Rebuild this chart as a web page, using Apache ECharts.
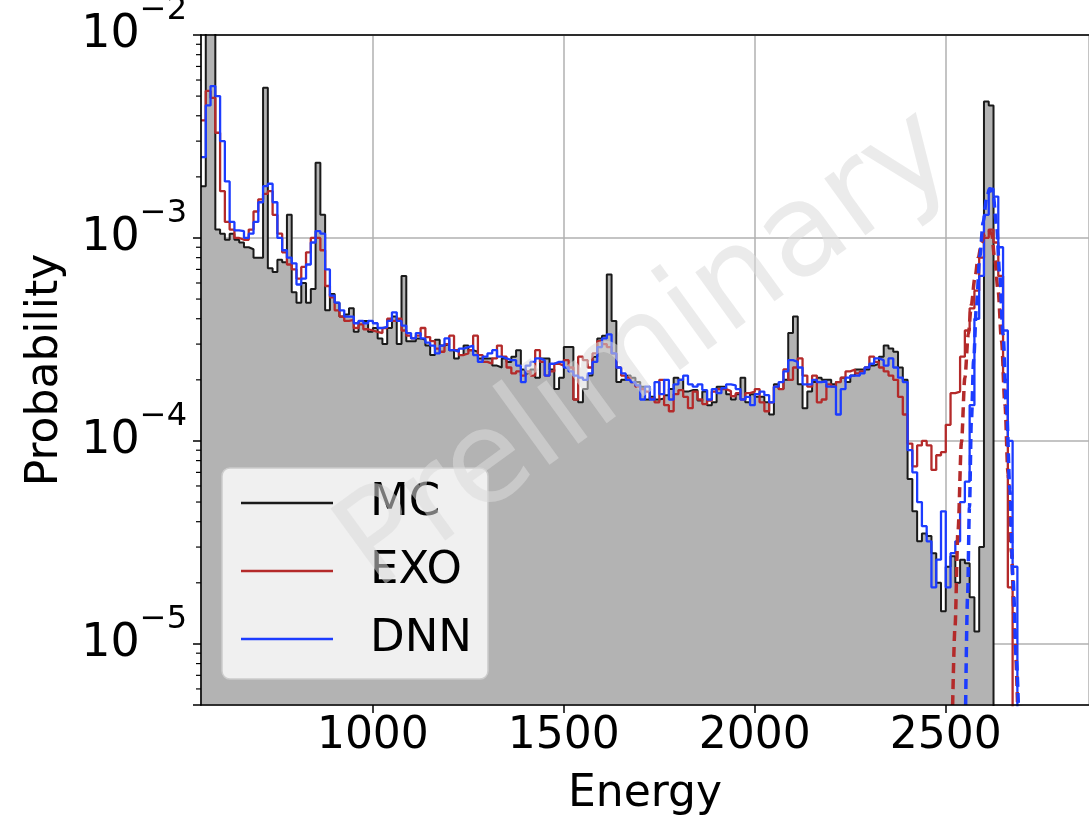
<!DOCTYPE html>
<html>
<head>
<meta charset="utf-8">
<script src="https://cdn.jsdelivr.net/npm/echarts@6/dist/echarts.min.js"></script>
<style>
html,body{margin:0;padding:0;background:#fff;}
#c{width:1089px;height:819px;}
</style>
</head>
<body>
<div id="c"></div>
<script>
// ---- histogram binning (bin left edges start at 550 keV, width 12.5 keV) ----
const BIN_START = 550;
const BIN_WIDTH = 12.5;

// MC (black step, gray fill), one value per bin
const mcValues = [
1.8e-3,1.5e-2,1.5e-2,1.1e-3,1.05e-3,9.8e-4,1.05e-3,9.8e-4,9.5e-4,9.0e-4,
8.8e-4,8.0e-4,8.0e-4,5.5e-3,7.1e-4,6.8e-4,7.8e-4,7.6e-4,1.3e-3,5.4e-4,
4.8e-4,6.0e-4,4.8e-4,5.6e-4,2.35e-3,1.3e-3,4.4e-4,5.3e-4,4.8e-4,4.1e-4,
4.2e-4,4.5e-4,3.45e-4,3.9e-4,3.9e-4,3.45e-4,3.6e-4,3.2e-4,3.0e-4,3.6e-4,
4.1e-4,3.0e-4,6.5e-4,3.1e-4,3.1e-4,3.2e-4,3.15e-4,2.95e-4,2.65e-4,3.15e-4,
2.95e-4,3.0e-4,2.8e-4,2.55e-4,2.65e-4,2.95e-4,2.8e-4,2.75e-4,2.55e-4,2.55e-4,
2.55e-4,2.35e-4,2.3e-4,2.55e-4,2.45e-4,2.6e-4,2.8e-4,2.25e-4,2.15e-4,2.25e-4,
2.05e-4,2.55e-4,2.55e-4,2.25e-4,1.8e-4,2.05e-4,2.9e-4,2.9e-4,1.6e-4,1.55e-4,
1.8e-4,2.1e-4,2.6e-4,3.2e-4,3.3e-4,6.6e-4,3.9e-4,1.95e-4,2.0e-4,2.1e-4,
2.05e-4,1.95e-4,1.85e-4,1.6e-4,1.65e-4,1.6e-4,1.62e-4,1.68e-4,1.8e-4,2.05e-4,
2.0e-4,1.75e-4,1.78e-4,1.78e-4,1.58e-4,1.75e-4,1.5e-4,1.55e-4,1.85e-4,1.85e-4,
1.7e-4,1.6e-4,1.7e-4,2.05e-4,1.55e-4,1.7e-4,1.65e-4,1.65e-4,1.55e-4,1.35e-4,
1.9e-4,1.8e-4,2.0e-4,3.4e-4,4.1e-4,1.9e-4,1.45e-4,1.75e-4,1.95e-4,2.05e-4,
2.0e-4,2.0e-4,1.9e-4,1.95e-4,2.05e-4,1.95e-4,2.1e-4,2.25e-4,2.25e-4,2.25e-4,
2.35e-4,2.4e-4,2.6e-4,2.95e-4,2.85e-4,2.75e-4,2.3e-4,2.0e-4,6.5e-5,4.5e-5,
3.2e-5,3.5e-5,3.4e-5,2.8e-5,2.0e-5,1.45e-5,2.4e-5,2.7e-5,2.0e-5,2.6e-5,
2.5e-5,1.7e-5,1.15e-5,3.0e-5,4.7e-3,4.5e-3,0,0,0,0,
0,0
];

// EXO reconstruction (red step)
const exoValues = [
3.8e-3,5.3e-3,4.9e-3,3.3e-3,1.7e-3,1.2e-3,1.1e-3,1.0e-3,9.8e-4,9.8e-4,
1.1e-3,1.35e-3,1.55e-3,1.65e-3,1.7e-3,1.3e-3,1.05e-3,8.5e-4,7.4e-4,7.0e-4,
6.3e-4,7.2e-4,8.5e-4,1.0e-3,1.0e-3,8.7e-4,5.8e-4,5.1e-4,4.4e-4,4.1e-4,
3.9e-4,3.95e-4,3.6e-4,3.75e-4,3.55e-4,3.5e-4,3.45e-4,3.4e-4,3.6e-4,4.0e-4,
3.9e-4,4.0e-4,3.5e-4,3.3e-4,3.2e-4,3.3e-4,3.6e-4,3.25e-4,3.1e-4,2.85e-4,
2.75e-4,3.0e-4,3.3e-4,2.8e-4,2.65e-4,2.7e-4,2.8e-4,3.3e-4,2.65e-4,2.45e-4,
2.4e-4,2.55e-4,2.95e-4,2.6e-4,2.3e-4,2.15e-4,2.2e-4,2.1e-4,2.2e-4,2.1e-4,
2.8e-4,2.45e-4,2.1e-4,2.2e-4,2.4e-4,2.35e-4,2.5e-4,2.3e-4,1.6e-4,2.6e-4,
2.5e-4,2.3e-4,2.7e-4,3.1e-4,3.0e-4,2.9e-4,2.7e-4,2.3e-4,2.1e-4,2.05e-4,
1.95e-4,1.85e-4,1.8e-4,1.75e-4,1.62e-4,1.55e-4,2.0e-4,1.5e-4,1.4e-4,1.7e-4,
1.78e-4,1.65e-4,1.45e-4,1.75e-4,1.6e-4,1.52e-4,1.58e-4,1.75e-4,1.8e-4,1.8e-4,
1.76e-4,1.66e-4,1.72e-4,1.6e-4,1.72e-4,1.75e-4,1.8e-4,1.55e-4,1.4e-4,1.55e-4,
1.85e-4,1.8e-4,2.25e-4,2.0e-4,2.3e-4,2.55e-4,2.1e-4,1.85e-4,2.1e-4,1.55e-4,
1.6e-4,1.9e-4,1.85e-4,1.95e-4,2.05e-4,2.2e-4,2.25e-4,2.15e-4,2.2e-4,2.3e-4,
2.6e-4,2.45e-4,2.3e-4,2.2e-4,2.1e-4,2.0e-4,1.65e-4,1.35e-4,9.7e-5,7.5e-5,
9.5e-5,1.0e-4,9.5e-5,7.2e-5,8.5e-5,8.8e-5,1.2e-4,1.72e-4,1.75e-4,2.6e-4,
3.5e-4,4.5e-4,5.5e-4,8.0e-4,1.0e-3,1.1e-3,9.5e-4,6.5e-4,2.0e-4,1.9e-5,
0,0
];

// DNN reconstruction (blue step)
const dnnValues = [
2.5e-3,4.5e-3,5.6e-3,5.0e-3,3.0e-3,1.9e-3,1.2e-3,1.09e-3,1.08e-3,1.0e-3,
1.05e-3,1.2e-3,1.5e-3,1.8e-3,1.85e-3,1.5e-3,1.0e-3,8.7e-4,8.0e-4,7.5e-4,
5.9e-4,6.3e-4,7.4e-4,9.5e-4,1.08e-3,1.05e-3,7.0e-4,5.2e-4,4.8e-4,4.4e-4,
4.1e-4,4.1e-4,3.8e-4,3.9e-4,3.8e-4,3.9e-4,3.8e-4,3.6e-4,3.65e-4,3.9e-4,
4.3e-4,3.9e-4,3.7e-4,3.4e-4,3.2e-4,3.4e-4,3.2e-4,3.05e-4,2.95e-4,2.7e-4,
2.95e-4,3.2e-4,2.8e-4,2.75e-4,2.85e-4,2.9e-4,2.95e-4,2.65e-4,2.45e-4,2.6e-4,
2.7e-4,2.8e-4,2.6e-4,2.55e-4,2.5e-4,2.5e-4,2.35e-4,1.95e-4,2.35e-4,2.45e-4,
2.55e-4,2.5e-4,2.1e-4,2.4e-4,2.45e-4,2.45e-4,2.3e-4,2.2e-4,2.1e-4,2.05e-4,
2.0e-4,2.15e-4,2.45e-4,2.9e-4,3.2e-4,3.35e-4,2.7e-4,2.3e-4,2.15e-4,2.0e-4,
1.95e-4,1.88e-4,1.6e-4,1.85e-4,1.6e-4,1.95e-4,1.7e-4,2.0e-4,1.6e-4,1.9e-4,
2.0e-4,2.1e-4,1.9e-4,1.85e-4,1.9e-4,1.78e-4,1.6e-4,1.8e-4,1.72e-4,1.82e-4,
1.9e-4,1.88e-4,1.8e-4,1.6e-4,1.65e-4,1.5e-4,1.7e-4,1.75e-4,1.68e-4,1.55e-4,
1.85e-4,1.95e-4,2.2e-4,2.5e-4,2.45e-4,2.3e-4,1.9e-4,1.9e-4,2.0e-4,1.95e-4,
1.97e-4,1.85e-4,1.85e-4,1.35e-4,1.8e-4,2.05e-4,2.1e-4,2.1e-4,2.15e-4,2.3e-4,
2.4e-4,2.55e-4,2.5e-4,2.35e-4,2.55e-4,2.3e-4,2.05e-4,1.95e-4,9.0e-5,7.0e-5,
5.0e-5,3.8e-5,3.2e-5,1.9e-5,2.6e-5,4.5e-5,1.9e-5,2.8e-5,3.2e-5,5.0e-5,
6.3e-5,1.5e-4,4.0e-4,6.5e-4,1.3e-3,1.75e-3,1.6e-3,9.0e-4,3.5e-4,1.0e-4,
2.4e-5,0
];

// Fitted peak curves (dashed): energy / probability
const exoFitEnergy = [2518,2524,2532,2541,2550,2559,2567,2576,2585,2594,2602,2611,2620,2628,2637,2646,2655,2663,2672,2681,2688];
const exoFitProb   = [5e-6,1.2e-5,3.6e-5,9.8e-5,2.05e-4,3.35e-4,4.7e-4,6.3e-4,8.0e-4,9.5e-4,1.05e-3,1.1e-3,1.05e-3,8.0e-4,5.5e-4,3.1e-4,1.5e-4,6.9e-5,2.8e-5,1.05e-5,5e-6];
const dnnFitEnergy = [2552,2557,2562,2567,2573,2580,2589,2598,2607,2615,2624,2633,2641,2650,2659,2668,2676,2685,2690];
const dnnFitProb   = [5e-6,1.7e-5,4.7e-5,1.25e-4,2.5e-4,4.5e-4,8.1e-4,1.2e-3,1.58e-3,1.75e-3,1.63e-3,1.15e-3,6.7e-4,3.35e-4,1.45e-4,5.7e-5,2.1e-5,8.3e-6,5e-6];

// Axis ticks
const xTickValues = [1000, 1500, 2000, 2500];
const yMinorTicks = [6e-6,7e-6,8e-6,9e-6,2e-5,3e-5,4e-5,5e-5,6e-5,7e-5,8e-5,9e-5,
                     2e-4,3e-4,4e-4,5e-4,6e-4,7e-4,8e-4,9e-4,2e-3,3e-3,4e-3,5e-3,6e-3,7e-3,8e-3,9e-3];

// visible x range: the plot continues past the right edge of the picture
const X_MIN = 550, X_MAX = 2875, Y_MIN = 5e-6, Y_MAX = 1e-2;
const FLOOR = 1e-9; // empty bins (zero) lie far below the axis on a log scale

function toSteps(vals) {
  const pts = vals.map((v, i) => [BIN_START + i * BIN_WIDTH, v > 0 ? v : FLOOR]);
  pts.push([BIN_START + vals.length * BIN_WIDTH, FLOOR]);
  return pts;
}
function zip(a, b) { return a.map((v, i) => [v, b[i]]); }

const FONT = '"DejaVu Sans", sans-serif';
const chart = echarts.init(document.getElementById('c'));

chart.setOption({
  animation: false,
  backgroundColor: '#ffffff',
  grid: { left: 201, top: 35, right: 0, height: 670, containLabel: false, outerBoundsMode: 'none' },
  xAxis: [
    { type: 'value', min: X_MIN, max: X_MAX, splitNumber: 5,
      axisLine: { show: false }, axisTick: { show: false }, axisLabel: { show: false },
      splitLine: { show: true, lineStyle: { color: '#b0b0b0', width: 1.5 } } },
    { type: 'value', min: X_MIN, max: X_MAX, splitNumber: 5, position: 'bottom', z: 10,
      axisLine: { show: true, onZero: false, lineStyle: { color: '#000', width: 1.6 } },
      axisTick: { show: true, length: 8, lineStyle: { color: '#000', width: 1.5 }, customValues: xTickValues },
      axisLabel: { show: true, margin: 10, fontSize: 44, fontFamily: FONT, color: '#000',
                   customValues: xTickValues,
                   formatter: v => (v % 500 === 0 ? String(v) : '') },
      splitLine: { show: false },
      name: 'Energy', nameLocation: 'middle', nameGap: 68,
      nameTextStyle: { fontSize: 44, fontFamily: FONT, color: '#000' } },
    { type: 'value', min: X_MIN, max: X_MAX, position: 'top', z: 10,
      axisLine: { show: true, onZero: false, lineStyle: { color: '#000', width: 1.6 } },
      axisTick: { show: false }, axisLabel: { show: false }, splitLine: { show: false } }
  ],
  yAxis: [
    { type: 'log', logBase: 10, min: Y_MIN, max: Y_MAX,
      axisLine: { show: false }, axisTick: { show: false }, axisLabel: { show: false },
      splitLine: { show: true, lineStyle: { color: '#b0b0b0', width: 1.5 } } },
    { type: 'log', logBase: 10, min: Y_MIN, max: Y_MAX, position: 'left', z: 10,
      axisLine: { show: true, onZero: false, lineStyle: { color: '#000', width: 1.6 } },
      axisTick: { show: true, length: 8, lineStyle: { color: '#000', width: 1.5 } },
      splitLine: { show: false },
      axisLabel: {
        show: true, margin: 14, color: '#000',
        formatter: function (v) {
          const e = Math.log10(v), k = Math.round(e);
          if (Math.abs(e - k) > 1e-6) return '';
          return '{b|10}{s|\u2212' + (-k) + '}';
        },
        rich: {
          b: { fontSize: 46, fontFamily: FONT, color: '#000', lineHeight: 80 },
          s: { fontSize: 32, fontFamily: FONT, color: '#000', lineHeight: 36, verticalAlign: 'top' }
        }
      },
      name: 'Probability', nameLocation: 'middle', nameGap: 133,
      nameTextStyle: { fontSize: 44, fontFamily: FONT, color: '#000' } }
  ],
  legend: {
    orient: 'vertical', left: 222, top: 468,
    data: ['MC', 'EXO', 'DNN'],
    icon: 'rect',
    itemWidth: 92, itemHeight: 2.5, itemGap: 18,
    padding: [10, 16, 15, 19],
    backgroundColor: 'rgba(255,255,255,0.8)',
    borderColor: '#cccccc', borderWidth: 1.5, borderRadius: 8,
    textStyle: { fontSize: 45, fontFamily: FONT, color: '#000', lineHeight: 50, padding: [0, 0, 0, 32] },
    selectedMode: false
  },
  graphic: [{
    type: 'text', x: 648, y: 352, rotation: 36 * Math.PI / 180, z: 100, silent: true,
    style: { text: 'Preliminary', fontSize: 128, fontFamily: FONT,
             fill: 'rgba(218,218,218,0.55)', align: 'center', verticalAlign: 'middle' }
  }],
  series: [
    { name: 'MC', type: 'line', step: 'end', symbol: 'none', xAxisIndex: 0, yAxisIndex: 0,
      data: toSteps(mcValues), color: '#1a1a1a',
      lineStyle: { color: '#1a1a1a', width: 2 },
      areaStyle: { color: '#b3b3b3', opacity: 1, origin: 'start' } },
    { name: 'EXO', type: 'line', step: 'end', symbol: 'none', xAxisIndex: 0, yAxisIndex: 0,
      data: toSteps(exoValues), color: '#b42a2a',
      lineStyle: { color: '#b42a2a', width: 2.3 } },
    { name: 'DNN', type: 'line', step: 'end', symbol: 'none', xAxisIndex: 0, yAxisIndex: 0,
      data: toSteps(dnnValues), color: '#1c3cff',
      lineStyle: { color: '#1c3cff', width: 2.3 } },
    { name: 'EXO fit', type: 'line', smooth: 0.3, smoothMonotone: 'x', symbol: 'none', xAxisIndex: 0, yAxisIndex: 0,
      data: zip(exoFitEnergy, exoFitProb), color: '#b42a2a',
      lineStyle: { color: '#b42a2a', width: 3.5, type: [10, 6] } },
    { name: 'DNN fit', type: 'line', smooth: 0.3, smoothMonotone: 'x', symbol: 'none', xAxisIndex: 0, yAxisIndex: 0,
      data: zip(dnnFitEnergy, dnnFitProb), color: '#1c3cff',
      lineStyle: { color: '#1c3cff', width: 3.5, type: [10, 6] } },
    { name: 'minorTicks', type: 'custom', xAxisIndex: 0, yAxisIndex: 0, z: 10, clip: false, silent: true,
      data: yMinorTicks.map(v => [X_MIN, v]),
      renderItem: function (params, api) {
        const p = api.coord([api.value(0), api.value(1)]);
        return { type: 'line', shape: { x1: p[0] - 5, y1: p[1], x2: p[0], y2: p[1] },
                 style: { stroke: '#000', lineWidth: 1.2 } };
      } }
  ]
});
</script>
</body>
</html>
